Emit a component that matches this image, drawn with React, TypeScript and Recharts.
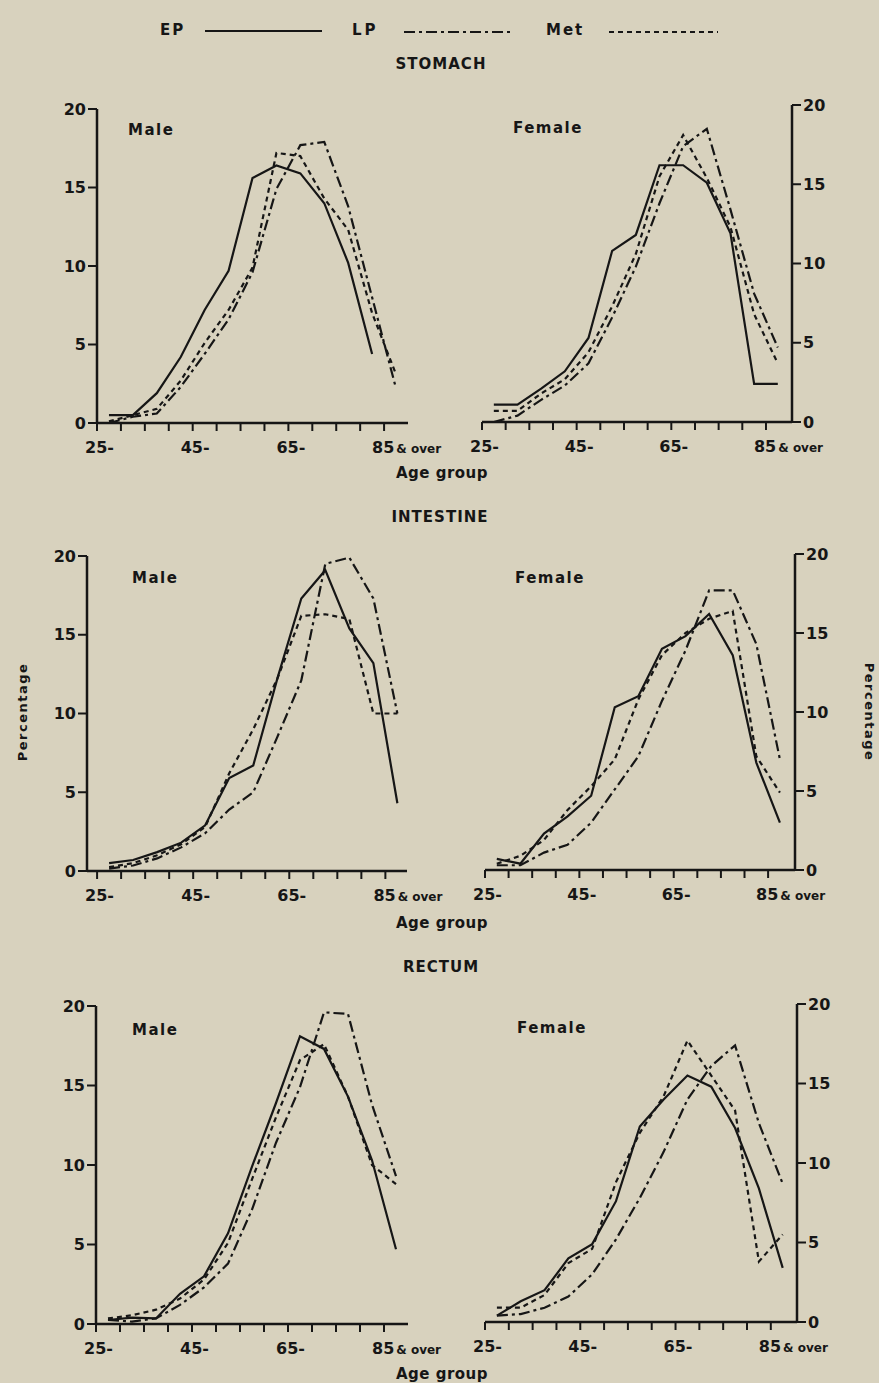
import React from 'react';
import { LineChart, Line, XAxis, YAxis } from 'recharts';

// ---- data ----
const ageGroups = ['25-29', '30-34', '35-39', '40-44', '45-49', '50-54', '55-59', '60-64', '65-69', '70-74', '75-79', '80-84', '85 & over'];
const ageMid = [27.5, 32.5, 37.5, 42.5, 47.5, 52.5, 57.5, 62.5, 67.5, 72.5, 77.5, 82.5, 87.5];
const xTicks = [25, 30, 35, 40, 45, 50, 55, 60, 65, 70, 75, 80, 85];
const xLabelled = [25, 45, 65, 85];
const yTicks = [0, 5, 10, 15, 20];

const stomachMaleEP = [0.5, 0.5, 1.9, 4.2, 7.2, 9.7, 15.6, 16.4, 15.9, 14.0, 10.2, 4.4, null];
const stomachMaleLP = [0.0, 0.4, 0.6, 2.3, 4.4, 6.6, 9.6, 14.9, 17.7, 17.9, 13.8, 8.0, 2.2];
const stomachMaleMet = [0.1, 0.5, 0.9, 2.7, 5.1, 7.2, 9.9, 17.2, 17.0, 14.3, 12.3, 7.0, 3.1];

const stomachFemaleEP = [1.1, 1.1, 2.1, 3.2, 5.3, 10.8, 11.8, 16.2, 16.2, 15.1, 11.9, 2.4, 2.4];
const stomachFemaleLP = [0.0, 0.4, 1.4, 2.3, 3.7, 6.6, 9.8, 13.8, 17.4, 18.5, 13.4, 8.1, 4.7];
const stomachFemaleMet = [0.7, 0.7, 1.8, 2.7, 4.4, 7.3, 10.6, 15.5, 18.1, 15.4, 12.3, 6.8, 3.7];

const intestineMaleEP = [0.5, 0.7, 1.2, 1.8, 2.9, 5.9, 6.7, 12.2, 17.3, 19.1, 15.4, 13.2, 4.3];
const intestineMaleLP = [0.15, 0.35, 0.8, 1.5, 2.4, 3.9, 5.0, 8.5, 12.1, 19.5, 19.9, 17.3, 10.0];
const intestineMaleMet = [0.25, 0.5, 1.0, 1.7, 2.8, 6.2, 9.0, 12.2, 16.2, 16.3, 16.0, 10.0, 10.0];

const intestineFemaleEP = [0.7, 0.4, 2.3, 3.4, 4.7, 10.3, 11.0, 14.0, 14.8, 16.2, 13.6, 6.8, 3.0];
const intestineFemaleLP = [0.3, 0.3, 1.1, 1.6, 3.0, 5.1, 7.2, 10.7, 13.9, 17.7, 17.7, 14.3, 7.0];
const intestineFemaleMet = [0.4, 0.9, 1.9, 3.8, 5.3, 7.0, 10.8, 13.6, 15.0, 15.9, 16.4, 7.2, 4.9];

const rectumMaleEP = [0.25, 0.4, 0.35, 1.9, 3.0, 5.7, 9.9, 13.9, 18.1, 17.3, 14.3, 10.3, 4.7];
const rectumMaleLP = [0.25, 0.15, 0.35, 1.2, 2.3, 3.8, 7.2, 11.4, 14.9, 19.6, 19.5, 13.8, 9.3];
const rectumMaleMet = [0.35, 0.55, 0.9, 1.6, 2.8, 5.1, 9.1, 13.0, 16.6, 17.6, 14.3, 10.0, 8.8];

const rectumFemaleEP = [0.4, 1.3, 2.0, 4.0, 4.9, 7.6, 12.3, 14.0, 15.5, 14.8, 12.2, 8.4, 3.4];
const rectumFemaleLP = [0.4, 0.5, 0.9, 1.6, 3.0, 5.2, 7.8, 10.7, 14.0, 16.1, 17.4, 12.5, 8.7];
const rectumFemaleMet = [0.9, 0.9, 1.7, 3.7, 4.6, 8.8, 11.9, 14.2, 17.7, 15.5, 13.3, 3.8, 5.5];

// ---- style ----
const INK = '#161616';
const BG = '#d8d2be';
const FONT = '"DejaVu Sans", Lato, sans-serif';
const LP_DASH = '11 4 3 4';
const MET_DASH = '5 4';

type Num = number | null;
function build(ep: Num[], lp: Num[], met: Num[]) {
  return ageMid.map((a, i) => ({ age: a, group: ageGroups[i], ep: ep[i], lp: lp[i], met: met[i] }));
}

const XTick = (props: any) => {
  const { x, y, payload } = props;
  const v = payload.value;
  if (!xLabelled.includes(v)) return <g />;
  if (v === 85) {
    return (
      <text x={x - 12} y={y + 20} fill={INK} fontFamily={FONT} fontWeight={700} fontSize={16}>
        85<tspan fontSize={12} dx={2}>& over</tspan>
      </text>
    );
  }
  return (
    <text x={x - 12} y={y + 20} fill={INK} fontFamily={FONT} fontWeight={700} fontSize={16}>
      {v}-
    </text>
  );
};

type PanelProps = {
  data: any[];
  side: 'left' | 'right';
  plotLeft: number;
  plotTop: number;
  plotRight: number;
  plotBottom: number;
  domain: [number, number];
};

const Panel = ({ data, side, plotLeft, plotTop, plotRight, plotBottom, domain }: PanelProps) => {
  const YW = 45;
  const XH = 40;
  const mT = 10;
  const mR = side === 'left' ? 50 : 0;
  const mL = side === 'left' ? 0 : 25;
  const plotW = plotRight - plotLeft;
  const plotH = plotBottom - plotTop;
  const width = mL + YW + plotW + mR;
  const height = mT + plotH + XH;
  const left = side === 'left' ? plotLeft - YW : plotLeft - mL;
  const top = plotTop - mT;
  const tickStyle = { fill: INK, fontFamily: FONT, fontWeight: 700, fontSize: 16 };
  return (
    <div style={{ position: 'absolute', left, top, width, height }}>
      <LineChart width={width} height={height} data={data} margin={{ top: mT, right: mR, left: mL, bottom: 0 }}>
        <XAxis
          dataKey="age"
          type="number"
          domain={domain}
          ticks={xTicks}
          interval={0}
          height={XH}
          allowDataOverflow
          axisLine={{ stroke: INK, strokeWidth: 2.5 }}
          tickLine={{ stroke: INK, strokeWidth: 2 }}
          tickSize={8}
          tick={<XTick />}
        />
        <YAxis
          orientation={side}
          width={YW}
          domain={[0, 20]}
          ticks={yTicks}
          interval={0}
          allowDataOverflow
          axisLine={{ stroke: INK, strokeWidth: 2.5 }}
          tickLine={{ stroke: INK, strokeWidth: 2 }}
          tickSize={9}
          tickMargin={2}
          tick={tickStyle}
        />
        <Line dataKey="ep" stroke={INK} strokeWidth={2.2} dot={false} isAnimationActive={false} type="linear" />
        <Line dataKey="lp" stroke={INK} strokeWidth={2.2} strokeDasharray={LP_DASH} dot={false} isAnimationActive={false} type="linear" />
        <Line dataKey="met" stroke={INK} strokeWidth={2.2} strokeDasharray={MET_DASH} dot={false} isAnimationActive={false} type="linear" />
      </LineChart>
    </div>
  );
};

const T = (p: any) => (
  <text fill={INK} fontFamily={FONT} fontWeight={700} {...p} />
);

export default function App() {
  return (
    <div style={{ position: 'absolute', left: 0, top: 0, width: 879, height: 1383, background: BG, overflow: 'hidden' }}>
      <Panel data={build(stomachMaleEP, stomachMaleLP, stomachMaleMet)} side="left" plotLeft={97} plotTop={109} plotRight={408} plotBottom={423} domain={[25, 90]} />
      <Panel data={build(stomachFemaleEP, stomachFemaleLP, stomachFemaleMet)} side="right" plotLeft={482} plotTop={105} plotRight={792} plotBottom={422} domain={[25, 90.5]} />
      <Panel data={build(intestineMaleEP, intestineMaleLP, intestineMaleMet)} side="left" plotLeft={87} plotTop={556} plotRight={407} plotBottom={871} domain={[22.9, 89.5]} />
      <Panel data={build(intestineFemaleEP, intestineFemaleLP, intestineFemaleMet)} side="right" plotLeft={485} plotTop={554} plotRight={795} plotBottom={870} domain={[25, 90.7]} />
      <Panel data={build(rectumMaleEP, rectumMaleLP, rectumMaleMet)} side="left" plotLeft={96} plotTop={1006} plotRight={408} plotBottom={1324} domain={[25, 90]} />
      <Panel data={build(rectumFemaleEP, rectumFemaleLP, rectumFemaleMet)} side="right" plotLeft={485} plotTop={1004} plotRight={797} plotBottom={1322} domain={[25, 90.5]} />

      <svg width={879} height={1383} style={{ position: 'absolute', left: 0, top: 0, pointerEvents: 'none' }}>
        {/* legend */}
        <T x={160} y={35} fontSize={15} letterSpacing={2}>EP</T>
        <line x1={205} y1={31} x2={322} y2={31} stroke={INK} strokeWidth={2.2} />
        <T x={352} y={35} fontSize={15} letterSpacing={3}>LP</T>
        <line x1={404} y1={32} x2={512} y2={32} stroke={INK} strokeWidth={2.2} strokeDasharray={LP_DASH} />
        <T x={546} y={35} fontSize={15} letterSpacing={2}>Met</T>
        <line x1={609} y1={32} x2={718} y2={32} stroke={INK} strokeWidth={2.2} strokeDasharray={MET_DASH} />

        {/* section titles */}
        <T x={441} y={69} fontSize={15} textAnchor="middle" letterSpacing={1}>STOMACH</T>
        <T x={440} y={522} fontSize={15} textAnchor="middle" letterSpacing={1}>INTESTINE</T>
        <T x={441} y={972} fontSize={15} textAnchor="middle" letterSpacing={1}>RECTUM</T>

        {/* Age group labels */}
        <T x={442} y={478} fontSize={15} textAnchor="middle" letterSpacing={0.5}>Age group</T>
        <T x={442} y={928} fontSize={15} textAnchor="middle" letterSpacing={0.5}>Age group</T>
        <T x={442} y={1379} fontSize={15} textAnchor="middle" letterSpacing={0.5}>Age group</T>

        {/* sex labels */}
        <T x={128} y={135} fontSize={15} letterSpacing={1.5}>Male</T>
        <T x={513} y={133} fontSize={15} letterSpacing={1.5}>Female</T>
        <T x={132} y={583} fontSize={15} letterSpacing={1.5}>Male</T>
        <T x={515} y={583} fontSize={15} letterSpacing={1.5}>Female</T>
        <T x={132} y={1035} fontSize={15} letterSpacing={1.5}>Male</T>
        <T x={517} y={1033} fontSize={15} letterSpacing={1.5}>Female</T>

        {/* Percentage labels */}
        <T x={0} y={0} fontSize={13} textAnchor="middle" letterSpacing={1.5} transform="translate(27 712) rotate(-90)">Percentage</T>
        <T x={0} y={0} fontSize={13} textAnchor="middle" letterSpacing={1.5} transform="translate(865 712) rotate(90)">Percentage</T>
      </svg>
    </div>
  );
}
